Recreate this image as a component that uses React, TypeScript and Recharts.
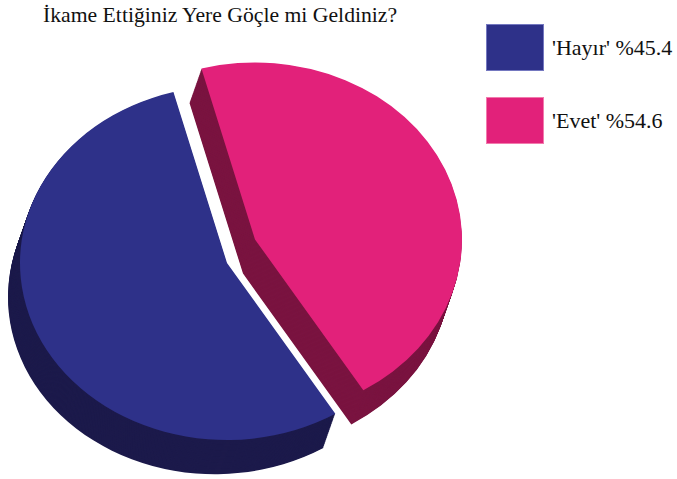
import { PieChart, Pie, Cell } from 'recharts';

// slice sizes as drawn, legend texts as printed in the source
const categories = ['Hayır', 'Evet'];
const sliceValues = [54.6, 45.4];
const legendLabels = ["'Hayır' %45.4", "'Evet' %54.6"];

const topColors = ['#2e3189', '#e2217a'];
const sideColors = ['#1c1a4b', '#7a1440'];

const data = categories.map((name, i) => ({ name, value: sliceValues[i] }));

const SERIF = '"Liberation Serif", "Times New Roman", serif';

// tilt of the disk and the extrusion of its side
const TILT = 0.855;
const DEPTH_X = -12;
const DEPTH_Y = 40;
const LAYERS = 40;
const RADIUS = 207;

// exploded centres (chart coordinates before tilt)
const centres = [
  { x: 227, y: 307.6 },
  { x: 255, y: 280 },
];

const renderSlice = (idx: number, dx: number, dy: number, colors: string[], key: string) => (
  <Pie
    key={key}
    data={data}
    dataKey="value"
    cx={centres[idx].x + dx}
    cy={centres[idx].y + dy}
    startAngle={105}
    endAngle={465}
    outerRadius={RADIUS}
    innerRadius={0}
    stroke="none"
    labelLine={false}
    legendType="none"
    isAnimationActive={false}
  >
    {data.map((entry, i) => (
      <Cell key={`c-${entry.name}`} fill={i === idx ? colors[i] : 'none'} />
    ))}
  </Pie>
);

const App = () => {
  const layers: JSX.Element[] = [];
  // far slice (Evet) first, then the nearer Hayır slice
  [1, 0].forEach((idx) => {
    for (let l = LAYERS; l >= 1; l--) {
      layers.push(renderSlice(idx, (DEPTH_X * l) / LAYERS, (DEPTH_Y * l) / LAYERS, sideColors, `s-${idx}-${l}`));
    }
    layers.push(renderSlice(idx, 0, 0, topColors, `t-${idx}`));
  });

  return (
    <div
      style={{
        position: 'absolute',
        left: 0,
        top: 0,
        width: 677,
        height: 479,
        overflow: 'hidden',
        background: '#fff',
        fontFamily: SERIF,
      }}
    >
      <div style={{ position: 'absolute', left: 0, top: 0, transform: `scaleY(${TILT})`, transformOrigin: '0 0' }}>
        <PieChart width={677} height={560} margin={{ top: 0, right: 0, bottom: 0, left: 0 }}>
          {layers}
        </PieChart>
      </div>
      <div style={{ position: 'absolute', left: 43, top: 3, fontFamily: SERIF, fontSize: 21.7, color: '#111', whiteSpace: 'nowrap' }}>
        İkame Ettiğiniz Yere Göçle mi Geldiniz?
      </div>
      {legendLabels.map((label, i) => (
        <div key={label} style={{ position: 'absolute', left: 486, top: 24 + i * 73, display: 'flex', alignItems: 'center' }}>
          <div
            style={{
              width: 58,
              height: 47,
              boxSizing: 'border-box',
              background: topColors[i],
              border: `1px solid ${i === 0 ? '#7478c0' : '#f27aad'}`,
            }}
          />
          <span style={{ marginLeft: 8, fontFamily: SERIF, fontSize: 22, color: '#111', whiteSpace: 'nowrap' }}>{label}</span>
        </div>
      ))}
    </div>
  );
};

export default App;
